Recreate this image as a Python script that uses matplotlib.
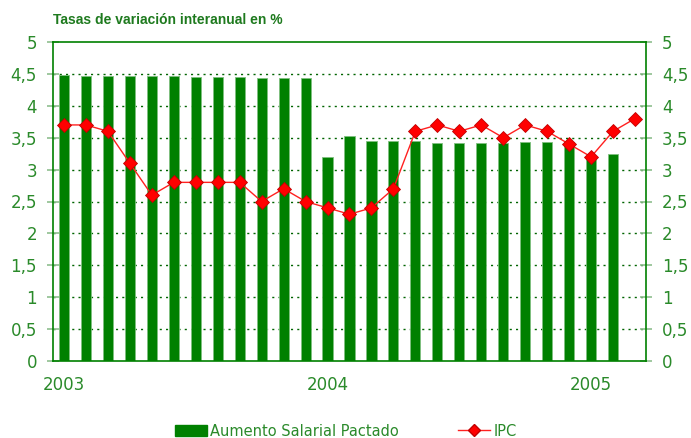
import matplotlib
matplotlib.use('Agg')
import matplotlib.pyplot as plt
from matplotlib.lines import Line2D
from matplotlib.patches import Patch
import numpy as np

# Aumento salarial pactado (ene 2003 - feb 2005)
salarios = [4.48, 4.47, 4.47, 4.47, 4.47, 4.47, 4.45, 4.45, 4.45, 4.43, 4.43, 4.43,
            3.20, 3.52, 3.45, 3.45, 3.45, 3.42, 3.42, 3.42, 3.41, 3.43, 3.43, 3.43,
            3.19, 3.24]
# IPC (ene 2003 - mar 2005)
ipc = [3.7, 3.7, 3.6, 3.1, 2.6, 2.8, 2.8, 2.8, 2.8, 2.5, 2.7, 2.5,
       2.4, 2.3, 2.4, 2.7, 3.6, 3.7, 3.6, 3.7, 3.5, 3.7, 3.6, 3.4,
       3.2, 3.6, 3.8]
anios = ['2003', '2004', '2005']
yticks = [0, 0.5, 1, 1.5, 2, 2.5, 3, 3.5, 4, 4.5, 5]
ylabels = ['0', '0,5', '1', '1,5', '2', '2,5', '3', '3,5', '4', '4,5', '5']

verde = '#008000'
txt = '#2a8a2a'

fig = plt.figure(figsize=(6.91, 4.38), dpi=100)
ax = fig.add_axes([53 / 691, 77 / 438, 593 / 691, 319 / 438])

xb = np.arange(len(salarios))
xl = np.arange(len(ipc))
ax.bar(xb, salarios, width=0.46, color=verde, edgecolor='#7fc07f', linewidth=0.6, zorder=2)
ax.plot(xl, ipc, color='#ff2020', lw=1.0, marker='D', ms=7, mfc='#ff0000',
        mec='#c00000', mew=0.6, zorder=3)

ax.set_xlim(-0.5, 26.5)
ax.set_ylim(0, 5)
for y in yticks[1:-1]:
    ax.axhline(y, color='#006400', ls=(0, (1.5, 3)), lw=1.0, zorder=1)

for s in ax.spines.values():
    s.set_color(verde)
    s.set_linewidth(1.2)

ax.set_yticks(yticks)
ax.set_yticklabels(ylabels)
ax.tick_params(axis='y', direction='inout', length=9, color='#8fbf8f', width=1.2,
               labelsize=12, labelcolor=txt, pad=7, right=True, labelright=True)
ax.set_xticks([0, 12, 24])
ax.set_xticklabels(anios)
ax.tick_params(axis='x', length=0, labelsize=12, labelcolor=txt, pad=11)

fig.text(53 / 691, 1 - 20 / 438, 'Tasas de variación interanual en %', fontsize=10,
         fontweight='bold', color='#1e7a1e', family='Liberation Sans', va='center')

handles = [Patch(facecolor=verde, edgecolor=verde),
           Line2D([0], [0], color='#ff2020', lw=1.0, marker='D', ms=6, mfc='#ff0000',
                  mec='#c00000')]
leg = fig.legend(handles, ['Aumento Salarial Pactado', 'IPC'], loc='center',
                 bbox_to_anchor=(0.5, 1 - 431 / 438), ncol=2, frameon=False,
                 fontsize=10.5, columnspacing=4.1, handlelength=2.2, handletextpad=0.2)
for t in leg.get_texts():
    t.set_color(txt)

fig.savefig('out.png', dpi=100)
